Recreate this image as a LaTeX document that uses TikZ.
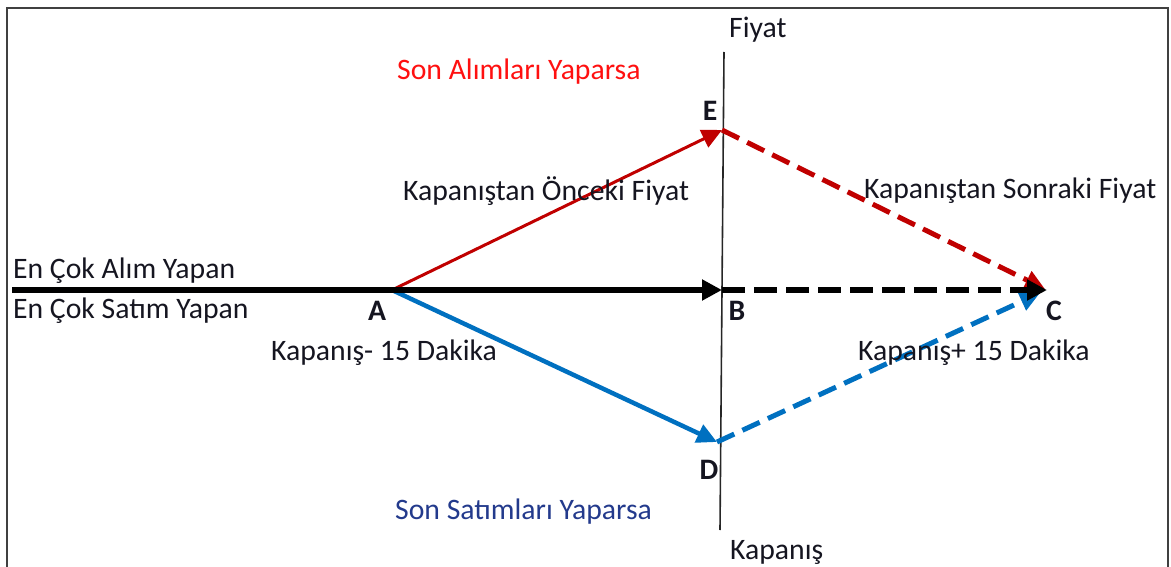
\documentclass[tikz,border=0pt]{standalone}
\usepackage{fontspec}
\setmainfont{Carlito}
\usetikzlibrary{arrows.meta}
\definecolor{frame}{HTML}{404040}
\definecolor{lred}{HTML}{C00000}
\definecolor{tred}{HTML}{FF1010}
\definecolor{lblue}{HTML}{0070C0}
\definecolor{tblue}{HTML}{233A8C}
\definecolor{txt}{HTML}{151520}
\begin{document}
\begin{tikzpicture}[x=1pt,y=-1pt,
  lbl/.style={inner sep=0pt, text=txt, font=\fontsize{29.7}{33}\selectfont},
  pt/.style={inner sep=0pt, text=txt, font=\fontsize{29.7}{33}\selectfont\bfseries},
  tip/.style={-{Triangle[length=20pt,width=19pt]}},
  dsh/.style={dash pattern=on 19pt off 9pt},
  bdsh/.style={dash pattern=on 23pt off 9pt}]
\useasboundingbox (0,0) rectangle (1171,567);
\draw[frame, line width=2.6pt] (7,567) -- (7,8) -- (1168,8) -- (1168,567);
% axis
\coordinate (axT) at (724,52);
\coordinate (axB) at (720,530);
\draw[black!85, line width=1.6pt] (axT) -- (axB);
% points
\coordinate (S) at (12,290);
\coordinate (A) at (392,290);
\coordinate (B) at (722,290);
\coordinate (C) at (1047,290);
\coordinate (E) at (722,130);
\coordinate (D) at (717,442);
\coordinate (Cr) at (1045,289);
\coordinate (Cb) at (1040,293);
% connectors
\draw[lred, line width=3pt, tip] (A) -- (E);
\draw[lred, line width=5pt, dsh, tip] (E) -- (Cr);
\draw[lblue, line width=4.5pt, tip] (A) -- (D);
\draw[lblue, line width=5pt, dsh, tip] (D) -- (Cb);
\draw[black, line width=6.5pt, -{Triangle[length=20pt,width=20pt]}] (S) -- (B);
\draw[black, line width=6.5pt, bdsh, -{Triangle[length=20pt,width=20pt]}] (B) -- (C);
% labels
\node[lbl, anchor=west] (fiyat) at (729,30) {Fiyat};
\node[lbl, anchor=west, text=tred] (sonal) at (397,72) {Son Alımları Yaparsa};
\node[pt] (lE) at (710,111) {E};
\node[lbl, anchor=west] (once) at (403,191) {Kapanıştan Önceki Fiyat};
\node[lbl, anchor=west] (sonra) at (864,191) {Kapanıştan Sonraki Fiyat};
\node[lbl, anchor=west] (alim) at (13,271) {En Çok Alım Yapan};
\node[lbl, anchor=west] (satim) at (13,311) {En Çok Satım Yapan};
\node[pt] (lA) at (377,311) {A};
\node[pt] (lB) at (737,311) {B};
\node[pt] (lC) at (1054,311) {C};
\node[lbl, anchor=west] (km) at (271,353) {Kapanış- 15 Dakika};
\node[lbl, anchor=west] (kp) at (858,353) {Kapanış+ 15 Dakika};
\node[pt] (lD) at (709,470) {D};
\node[lbl, anchor=west, text=tblue] (sonsat) at (395,512) {Son Satımları Yaparsa};
\node[lbl, anchor=west] (kap) at (730,552) {Kapanış};
\end{tikzpicture}
\end{document}
